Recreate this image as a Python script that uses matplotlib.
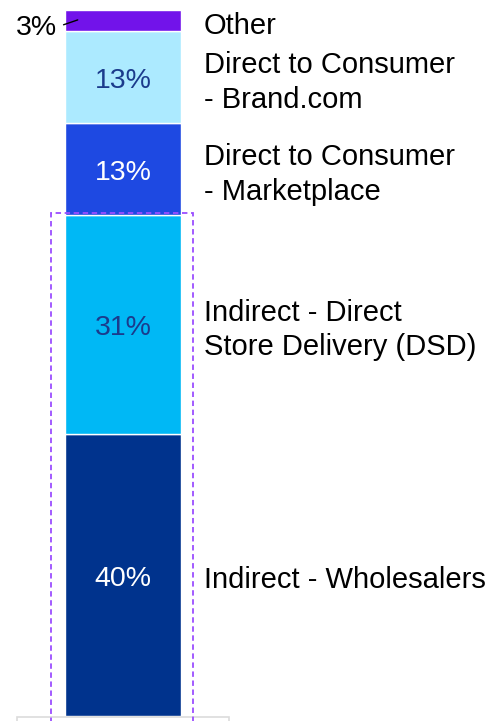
import matplotlib.pyplot as plt
from matplotlib.patches import Rectangle

plt.rcParams['font.family'] = ['Liberation Sans', 'DejaVu Sans']

# data, bottom to top
channels = ["Indirect - Wholesalers",
            "Indirect - Direct\nStore Delivery (DSD)",
            "Direct to Consumer\n- Marketplace",
            "Direct to Consumer\n- Brand.com",
            "Other"]
shares = [40, 31, 13, 13, 3]
colors = ["#00338D", "#00B8F5", "#1E49E2", "#ACEAFF", "#7213EA"]
label_colors = ["white", "#1B3B8C", "white", "#1B3B8C", "black"]

fig = plt.figure(figsize=(4.9, 7.21), dpi=100)
ax = fig.add_axes([0, 0, 1, 1])
ax.set_xlim(-1.06, 3.164)
ax.set_ylim(-0.708, 101.42)
ax.set_axis_off()

bottom = 0
for name, val, col, lc in zip(channels, shares, colors, label_colors):
    ax.bar(0, val, width=1, bottom=bottom, color=col, edgecolor="white", linewidth=1)
    mid = bottom + val / 2
    if val >= 5:
        ax.text(0, mid - 0.6, f"{val}%", ha="center", va="center", fontsize=20.5, color=lc)
    else:
        # small slice: label outside with leader line into the bar
        ax.annotate(f"{val}%", xy=(-0.39, mid + 0.1), xytext=(-0.57, mid - 1.1),
                    ha="right", va="center", fontsize=20.5, color="black",
                    zorder=6,
                    arrowprops=dict(arrowstyle="-", color="black", lw=1,
                                    relpos=(1, 0.55), shrinkA=3, shrinkB=0))
    ax.text(0.698, mid - 0.8, name, ha="left", va="center", fontsize=21,
            color="black", linespacing=1.3)
    bottom += val

# dashed highlight around the indirect channels
indirect = shares[0] + shares[1]
ax.add_patch(Rectangle((-0.621, -5), 1.224, indirect + 5.2, fill=False,
                       edgecolor="#9B4DFF", linestyle=(0, (3, 2)), linewidth=1.3,
                       clip_on=False, zorder=5))

# light gray box peeking at the bottom
ax.add_patch(Rectangle((-0.914, -3), 1.828, 2.86, fill=False,
                       edgecolor="#DCDCDC", linewidth=1.2, zorder=1))

fig.savefig("out.png", dpi=100)
